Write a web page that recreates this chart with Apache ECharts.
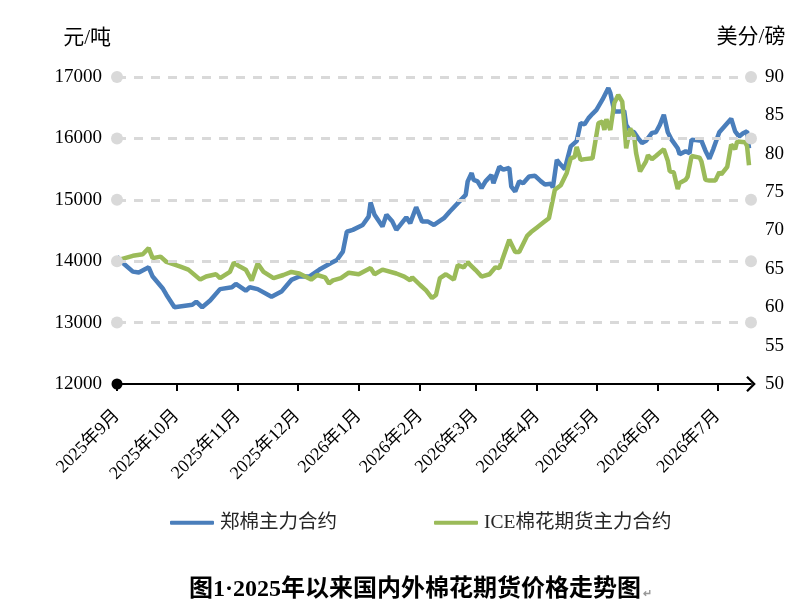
<!DOCTYPE html>
<html>
<head>
<meta charset="utf-8">
<script src="https://cdn.jsdelivr.net/npm/echarts@6.0.0/dist/echarts.min.js"></script>
<style>
  html, body { margin: 0; padding: 0; background: #fff; }
  #chart { width: 801px; height: 609px; }
</style>
</head>
<body>
<div id="chart"></div>
<script>
// 郑棉主力合约 (元/吨)
const zhengDates = [
  '2025-09-01','2025-09-03','2025-09-09','2025-09-12','2025-09-17','2025-09-19','2025-09-24','2025-09-26','2025-09-30',
  '2025-10-09','2025-10-11','2025-10-14','2025-10-18','2025-10-23','2025-10-29','2025-10-31',
  '2025-11-05','2025-11-07','2025-11-11','2025-11-18','2025-11-23','2025-11-28',
  '2025-12-02','2025-12-07','2025-12-12','2025-12-18','2025-12-21','2025-12-24','2025-12-26','2025-12-29',
  '2026-01-03','2026-01-06','2026-01-07','2026-01-09','2026-01-13','2026-01-15','2026-01-18','2026-01-20','2026-01-25','2026-01-27','2026-01-30',
  '2026-02-02','2026-02-05','2026-02-08','2026-02-13','2026-02-16','2026-02-24','2026-02-25','2026-02-27','2026-02-28',
  '2026-03-02','2026-03-04','2026-03-06','2026-03-07','2026-03-09','2026-03-10','2026-03-13','2026-03-15','2026-03-18','2026-03-19','2026-03-21','2026-03-23','2026-03-25','2026-03-28','2026-03-31',
  '2026-04-03','2026-04-05','2026-04-08','2026-04-09','2026-04-11','2026-04-13','2026-04-15','2026-04-18','2026-04-21','2026-04-23','2026-04-25','2026-04-27','2026-04-29',
  '2026-05-01','2026-05-04','2026-05-07','2026-05-08','2026-05-10','2026-05-11','2026-05-13','2026-05-15','2026-05-16','2026-05-18','2026-05-20','2026-05-22','2026-05-24','2026-05-26','2026-05-29','2026-05-31',
  '2026-06-02','2026-06-04','2026-06-06','2026-06-08','2026-06-11','2026-06-12','2026-06-15','2026-06-17','2026-06-18','2026-06-23','2026-06-25','2026-06-27','2026-06-29',
  '2026-07-02','2026-07-05','2026-07-08','2026-07-10','2026-07-12','2026-07-14','2026-07-16','2026-07-17'
];
const zhengValues = [
  14075,14000,13830,13815,13900,13750,13560,13450,13250,
  13290,13340,13250,13360,13545,13575,13630,
  13520,13575,13545,13420,13505,13695,
  13750,13750,13860,13970,14020,14155,14480,14510,
  14590,14725,14955,14755,14565,14755,14645,14510,14715,14620,14880,
  14645,14645,14590,14700,14810,15080,15300,15435,15325,
  15300,15190,15300,15270,15405,15270,15540,15490,15520,15215,15135,15300,15270,15380,15390,
  15300,15250,15260,15200,15650,15570,15500,15870,15955,16250,16230,16330,16400,
  16465,16630,16820,16740,16440,16410,16440,16450,16220,16120,16100,16005,15925,15960,16090,16100,
  16220,16385,16100,15975,15840,15740,15790,15760,15980,15960,15800,15670,15830,
  16100,16210,16320,16115,16030,16085,16115,15840
];

// ICE棉花期货主力合约 (美分/磅)
const iceDates = [
  '2025-09-01','2025-09-09','2025-09-14','2025-09-17','2025-09-19','2025-09-23','2025-09-26',
  '2025-10-03','2025-10-07','2025-10-13','2025-10-16','2025-10-21','2025-10-23','2025-10-28','2025-10-30',
  '2025-11-02','2025-11-05','2025-11-08','2025-11-11','2025-11-14','2025-11-19','2025-11-24','2025-11-28',
  '2025-12-02','2025-12-08','2025-12-11','2025-12-15','2025-12-17','2025-12-19','2025-12-23','2025-12-27',
  '2026-01-01','2026-01-07','2026-01-09','2026-01-13','2026-01-20','2026-01-24','2026-01-27','2026-01-28',
  '2026-02-01','2026-02-04','2026-02-07','2026-02-09','2026-02-11','2026-02-14','2026-02-18','2026-02-20','2026-02-23','2026-02-25','2026-02-26',
  '2026-03-01','2026-03-04','2026-03-08','2026-03-11','2026-03-13','2026-03-18','2026-03-21','2026-03-23','2026-03-27','2026-03-29',
  '2026-04-01','2026-04-04','2026-04-07','2026-04-08','2026-04-10','2026-04-13','2026-04-16','2026-04-18','2026-04-20','2026-04-21','2026-04-23','2026-04-25','2026-04-29','2026-04-30',
  '2026-05-02','2026-05-04','2026-05-05','2026-05-06','2026-05-08','2026-05-10','2026-05-12','2026-05-14','2026-05-15','2026-05-16','2026-05-18','2026-05-20','2026-05-21','2026-05-23','2026-05-26','2026-05-27','2026-05-29','2026-05-31',
  '2026-06-04','2026-06-06','2026-06-07','2026-06-09','2026-06-11','2026-06-12','2026-06-15','2026-06-16','2026-06-18','2026-06-22','2026-06-23','2026-06-25','2026-06-27','2026-06-30',
  '2026-07-02','2026-07-03','2026-07-06','2026-07-07','2026-07-08','2026-07-10','2026-07-11','2026-07-15','2026-07-16','2026-07-17'
];
const iceValues = [
  66.1,66.7,66.9,67.7,66.4,66.6,65.9,
  65.3,64.9,63.6,64.0,64.3,63.8,64.6,65.8,
  65.3,64.9,63.5,65.7,64.6,63.8,64.2,64.6,
  64.4,63.6,64.2,63.9,63.1,63.5,63.8,64.5,
  64.3,65.1,64.3,64.9,64.4,64.0,63.5,63.9,
  62.9,62.2,61.2,61.6,63.8,64.3,63.6,65.5,65.2,65.9,65.6,
  64.85,64.0,64.3,65.2,65.1,68.8,67.2,67.2,69.3,69.8,
  70.4,71.0,71.6,71.4,75.3,75.9,77.5,79.4,79.6,80.9,79.2,79.3,79.4,79.6,
  84.0,84.2,83.1,84.5,83.1,86.6,87.65,86.8,84.0,80.7,83.3,82.3,80.1,77.7,79.0,79.8,79.3,79.7,
  80.6,79.1,77.7,77.6,75.4,76.2,76.6,77.0,79.7,79.5,79.0,76.6,76.5,76.5,
  77.6,77.3,78.3,78.4,81.2,80.6,81.6,81.5,81.0,78.5
];

const leftTicks = { min: 12000, max: 17000, interval: 1000 };
const rightTicks = { min: 50, max: 90, interval: 5 };
const gridValues = [13000, 14000, 15000, 16000, 17000];

// daily category axis, 2025-09-01 .. 2026-07-18
const categories = [];
for (let t = Date.UTC(2025, 8, 1); t <= Date.UTC(2026, 6, 18); t += 86400000) {
  categories.push(new Date(t).toISOString().slice(0, 10));
}

const serif = "'Liberation Serif', 'Times New Roman', 'Noto Sans CJK SC', serif";
const isMonthStart = (idx, val) => val.slice(8) === '01';

const chart = echarts.init(document.getElementById('chart'));
chart.setOption({
  animation: false,
  backgroundColor: '#fff',
  title: {
    text: '{t|图1·2025年以来国内外棉花期货价格走势图}{m|↵}',
    left: 184,
    top: 573,
    textStyle: {
      rich: {
        t: { fontFamily: serif, fontSize: 24, fontWeight: 'bold', color: '#000' },
        m: { fontSize: 11, color: '#999', padding: [8, 0, 0, 2] }
      }
    }
  },
  legend: {
    data: ['郑棉主力合约', 'ICE棉花期货主力合约'],
    left: 165,
    top: 508,
    itemWidth: 44,
    itemHeight: 4,
    itemGap: 97,
    icon: 'roundRect',
    selectedMode: false,
    textStyle: { fontFamily: serif, fontSize: 19.5, color: '#262626', padding: [0, 0, 0, 1] }
  },
  grid: { left: 117, right: 50, top: 77, bottom: 225 },
  xAxis: {
    type: 'category',
    data: categories,
    boundaryGap: false,
    axisLine: {
      show: true,
      symbol: ['circle', 'path://M0,10 L10,0 L20,10 L18,12 L10,4 L2,12 Z'],
      symbolSize: [16, 11],
      lineStyle: { color: '#000', width: 2 }
    },
    axisTick: { show: true, interval: isMonthStart, length: 7, lineStyle: { color: '#000', width: 2 } },
    axisLabel: {
      interval: isMonthStart,
      rotate: 45,
      margin: 29,
      fontFamily: serif,
      fontSize: 18,
      color: '#000',
      formatter: v => `${+v.slice(0, 4)}年${+v.slice(5, 7)}月`
    },
    splitLine: { show: false }
  },
  yAxis: [
    {
      type: 'value',
      min: leftTicks.min,
      max: leftTicks.max,
      interval: leftTicks.interval,
      name: '元/吨',
      nameLocation: 'end',
      nameGap: 39,
      nameTextStyle: { fontFamily: serif, fontSize: 21, color: '#000', align: 'right', verticalAlign: 'middle', padding: [0, 6, 0, 0] },
      axisLine: { show: false },
      axisTick: { show: false },
      splitLine: { show: false },
      axisLabel: { margin: 15, fontFamily: serif, fontSize: 19, color: '#000', formatter: v => String(v) }
    },
    {
      type: 'value',
      min: rightTicks.min,
      max: rightTicks.max,
      interval: rightTicks.interval,
      name: '美分/磅',
      nameLocation: 'end',
      nameGap: 40,
      nameTextStyle: { fontFamily: serif, fontSize: 21, color: '#000', align: 'center', verticalAlign: 'middle' },
      axisLine: { show: false },
      axisTick: { show: false },
      splitLine: { show: false },
      axisLabel: { margin: 14, fontFamily: serif, fontSize: 19, color: '#000', formatter: v => String(v) }
    }
  ],
  series: [
    {
      name: 'gridlines',
      type: 'line',
      data: [],
      z: 1,
      silent: true,
      markLine: {
        silent: true,
        symbol: ['circle', 'circle'],
        symbolSize: 12,
        label: { show: false },
        lineStyle: { color: '#d9d9d9', width: 3, type: [9, 8] },
        emphasis: { disabled: true },
        data: gridValues.map(v => ({ yAxis: v }))
      }
    },
    {
      name: '郑棉主力合约',
      type: 'line',
      z: 3,
      showSymbol: false,
      data: zhengDates.map((d, i) => [d, zhengValues[i]]),
      lineStyle: { color: '#4a7ebb', width: 4.5 },
      itemStyle: { color: '#4a7ebb' }
    },
    {
      name: 'ICE棉花期货主力合约',
      type: 'line',
      yAxisIndex: 1,
      z: 4,
      showSymbol: false,
      data: iceDates.map((d, i) => [d, iceValues[i]]),
      lineStyle: { color: '#9bbb59', width: 4.5 },
      itemStyle: { color: '#9bbb59' }
    }
  ]
});
</script>
</body>
</html>
